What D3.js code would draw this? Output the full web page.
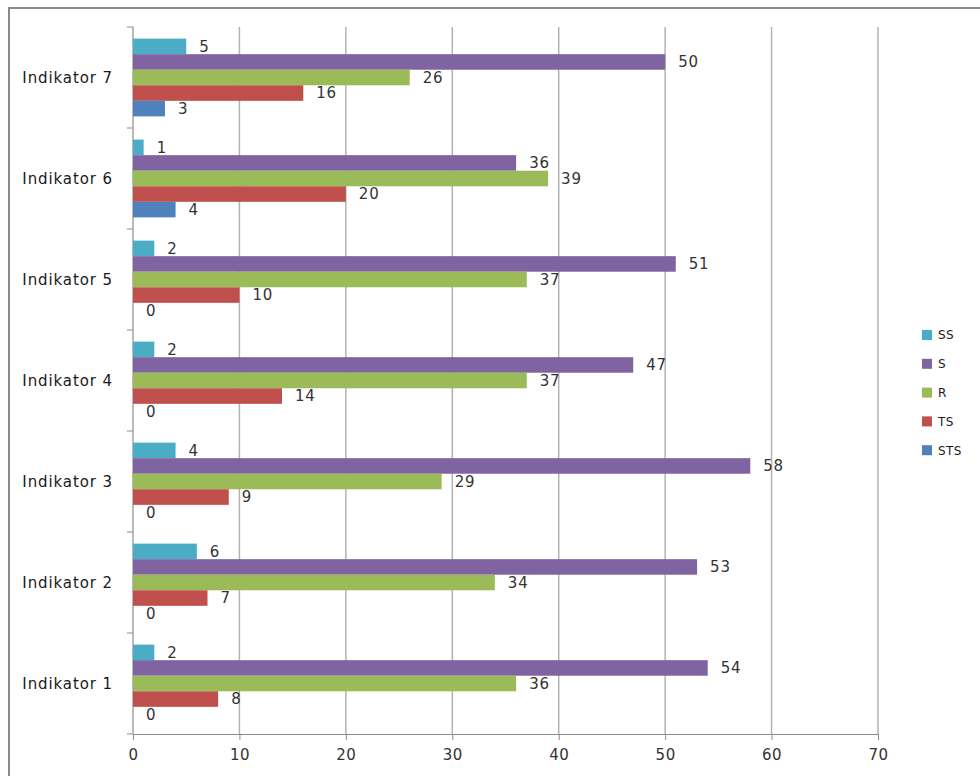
<!DOCTYPE html>
<html><head><meta charset="utf-8">
<script src="https://cdn.jsdelivr.net/npm/d3@7"></script>
<style>body{margin:0;background:#fff}svg{display:block}</style>
</head><body>
<svg id="c" width="980" height="776"></svg>
<script>
const categories = ["Indikator 1","Indikator 2","Indikator 3","Indikator 4","Indikator 5","Indikator 6","Indikator 7"];
const seriesNames = ["SS","S","R","TS","STS"];
const seriesColors = ["#4BACC6","#8064A2","#9BBB59","#C0504D","#4F81BD"];
const valuesSS  = [2,6,4,2,2,1,5];
const valuesS   = [54,53,58,47,51,36,50];
const valuesR   = [36,34,29,37,37,39,26];
const valuesTS  = [8,7,9,14,10,20,16];
const valuesSTS = [0,0,0,0,0,4,3];
const xTicks = [0,10,20,30,40,50,60,70];

(function(){
const seriesValues = [valuesSS,valuesS,valuesR,valuesTS,valuesSTS];
const svg = d3.select("#c");
const font = "DejaVu Sans";

svg.append("rect").attr("x",9).attr("y",8).attr("width",1000).attr("height",800)
  .attr("fill","none").attr("stroke","#8a8a8a").attr("stroke-width",2);

const pL = 133, pR = 878, pT = 27, pB = 734;
const x = d3.scaleLinear().domain([0,70]).range([pL,pR]);
const y = d3.scaleBand().domain(categories.slice().reverse()).range([pT,pB]).paddingInner(0.23).paddingOuter(0.115);
const inner = d3.scaleBand().domain(seriesNames).range([0,y.bandwidth()]);

svg.append("g").selectAll("line").data(xTicks.slice(1)).join("line")
  .attr("x1",d=>x(d)).attr("x2",d=>x(d)).attr("y1",pT).attr("y2",pB)
  .attr("stroke","#b3b3b3").attr("stroke-width",1.5);

const xa = svg.append("g").attr("transform",`translate(0,${pB})`)
  .call(d3.axisBottom(x).tickValues(xTicks).tickSize(6).tickPadding(9).tickSizeOuter(0));
xa.select(".domain").attr("stroke","#8c8c8c").attr("stroke-width",1.2);
xa.selectAll(".tick line").attr("stroke","#8c8c8c");
xa.selectAll("text").attr("font-family",font).attr("font-size",15).attr("letter-spacing",0.5).attr("fill","#333");

const bandStep = (pB-pT)/categories.length;
const yBound = d3.range(categories.length+1).map(i=>pT+i*bandStep);
const ya = svg.append("g");
ya.append("line").attr("x1",pL).attr("x2",pL).attr("y1",pT).attr("y2",pB).attr("stroke","#8c8c8c").attr("stroke-width",1.2);
ya.selectAll("line.t").data(yBound).join("line").attr("class","t")
  .attr("x1",pL-6).attr("x2",pL).attr("y1",d=>d).attr("y2",d=>d).attr("stroke","#8c8c8c");
ya.selectAll("text").data(categories).join("text")
  .attr("x",113).attr("y",d=>y(d)+y.bandwidth()/2).attr("dy","0.35em").attr("text-anchor","end")
  .attr("font-family",font).attr("font-size",15).attr("letter-spacing",0.9).attr("fill","#1a1a1a").text(d=>d);

const groups = svg.append("g").selectAll("g").data(categories).join("g")
  .attr("transform",d=>`translate(0,${y(d)})`);
seriesNames.forEach((s,si)=>{
  groups.append("rect")
    .attr("x",pL).attr("y",inner(s)).attr("height",inner.bandwidth())
    .attr("width",(d,i)=>x(seriesValues[si][i])-pL).attr("fill",seriesColors[si]);
  groups.append("text")
    .attr("x",(d,i)=>x(seriesValues[si][i])+13).attr("y",inner(s)+inner.bandwidth()/2).attr("dy","0.36em")
    .attr("font-family",font).attr("font-size",15).attr("letter-spacing",0.8).attr("fill","#333")
    .text((d,i)=>seriesValues[si][i]);
});

const lg = svg.append("g").selectAll("g").data(seriesNames).join("g")
  .attr("transform",(d,i)=>`translate(922,${330+i*28.8})`);
lg.append("rect").attr("width",10).attr("height",10).attr("fill",(d,i)=>seriesColors[i]);
lg.append("text").attr("x",16).attr("y",5).attr("dy","0.36em").attr("font-family",font).attr("font-size",12).attr("letter-spacing",0.4).attr("fill","#1a1a1a").text(d=>d);
})();
</script>
</body></html>
